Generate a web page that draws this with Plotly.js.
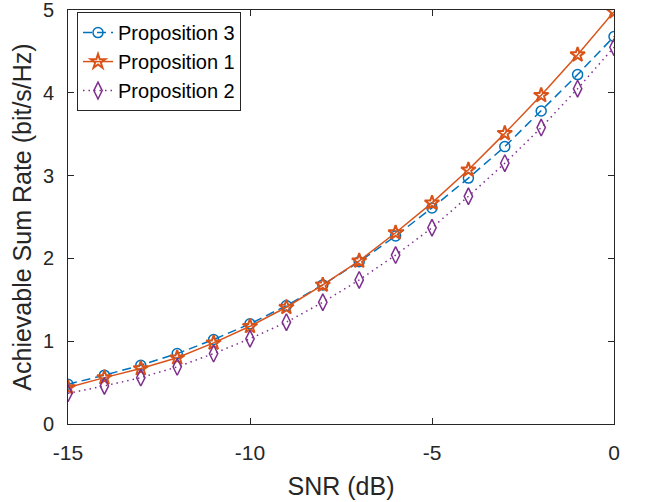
<!DOCTYPE html>
<html>
<head>
<meta charset="utf-8">
<script src="https://cdn.plot.ly/plotly-3.0.1.min.js"></script>
<style>html,body{margin:0;padding:0;background:#fff;}#chart{width:645px;height:502px;}</style>
</head>
<body>
<div id="chart"></div>
<script>
const snr = [-15,-14,-13,-12,-11,-10,-9,-8,-7,-6,-5,-4,-3,-2,-1,0];
const prop3 = [0.48,0.59,0.71,0.85,1.02,1.21,1.43,1.68,1.96,2.27,2.61,2.97,3.35,3.78,4.22,4.68];
const prop1 = [0.44,0.56,0.67,0.80,0.98,1.18,1.41,1.68,1.97,2.31,2.67,3.07,3.51,3.97,4.46,4.98];
const prop2 = [0.37,0.46,0.56,0.69,0.85,1.03,1.23,1.47,1.74,2.04,2.37,2.75,3.15,3.58,4.05,4.55];
const names = ['Proposition 3','Proposition 1','Proposition 2'];
const xTicks = [-15,-10,-5,0];
const yTicks = [0,1,2,3,4,5];

const fontFam = 'Liberation Sans, Arial, Helvetica, sans-serif';
const axCol = '#262626';

const traces = [
  {x: snr, y: prop3, name: names[0], mode: 'lines+markers',
   line: {color: '#0072BD', width: 1.5, dash: '9px,5px'},
   marker: {symbol: 'circle-open', size: 10, color: '#0072BD', line: {width: 1.5, color: '#0072BD'}}},
  {x: snr, y: prop1, name: names[1], mode: 'lines+markers',
   line: {color: '#D95319', width: 1.5},
   marker: {symbol: 'star-open', size: 11, color: '#D95319', line: {width: 2, color: '#D95319'}}},
  {x: snr, y: prop2, name: names[2], mode: 'lines+markers',
   line: {color: '#7E2F8E', width: 1.5, dash: '1.5px,4px'},
   marker: {symbol: 'diamond-tall-open', size: 12, color: '#7E2F8E', line: {width: 1.5, color: '#7E2F8E'}}}
];

const layout = {
  width: 645, height: 502,
  margin: {l: 68, r: 31, t: 10, b: 78},
  paper_bgcolor: '#fff', plot_bgcolor: '#fff',
  font: {family: fontFam, color: axCol},
  showlegend: true,
  legend: {x: 0.0165, y: 0.995, xanchor: 'left', yanchor: 'top',
    bgcolor: '#fff', bordercolor: axCol, borderwidth: 1,
    font: {family: fontFam, size: 20, color: '#000'}},
  xaxis: {range: [-15, 0], tickvals: xTicks, ticktext: xTicks.map(String),
    showgrid: false, zeroline: false, showline: true, mirror: 'ticks',
    linecolor: axCol, linewidth: 1, ticks: 'inside', ticklen: 6, tickcolor: axCol,
    tickfont: {size: 21, color: axCol}, ticklabelstandoff: 10, ticklabeloverflow: 'allow',
    title: {text: 'SNR (dB)', font: {size: 25, color: axCol}, standoff: 14}},
  yaxis: {range: [0, 5], tickvals: yTicks, ticktext: yTicks.map(String),
    showgrid: false, zeroline: false, showline: true, mirror: 'ticks',
    linecolor: axCol, linewidth: 1, ticks: 'inside', ticklen: 6, tickcolor: axCol,
    tickfont: {size: 20, color: axCol}, ticklabelstandoff: 9, ticklabeloverflow: 'allow',
    title: {text: 'Achievable Sum Rate (bit/s/Hz)', font: {size: 25, color: axCol}, standoff: 4}}
};

Plotly.newPlot('chart', traces, layout, {displayModeBar: false, staticPlot: true});
</script>
</body>
</html>
